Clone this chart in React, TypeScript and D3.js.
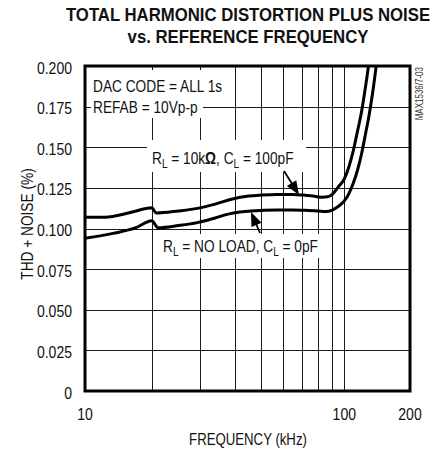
import React from 'react';
import * as d3 from 'd3';

const W = 437;
const H = 451;

const freqGrid = [10, 20, 30, 40, 50, 60, 70, 80, 90, 100, 200];
const freqLabels = [10, 100, 200];
const thdTicks = [0, 0.025, 0.05, 0.075, 0.1, 0.125, 0.15, 0.175, 0.2];
const thdLabels = ['0', '0.025', '0.050', '0.075', '0.100', '0.125', '0.150', '0.175', '0.200'];

// R_L = 10kΩ, C_L = 100pF
const loadFreq = [10, 12.3, 16, 20, 20.8, 25, 29.3, 34, 38.9, 45, 50, 57, 65, 72, 78, 83, 87, 91, 95, 100, 105, 110, 115, 120, 125, 129, 132];
const loadThd = [0.107, 0.107, 0.1098, 0.1128, 0.1095, 0.1108, 0.1124, 0.115, 0.118, 0.12, 0.1206, 0.121, 0.121, 0.1205, 0.1198, 0.1193, 0.1195, 0.1215, 0.1255, 0.1305, 0.138, 0.148, 0.16, 0.172, 0.187, 0.2, 0.212];

// R_L = NO LOAD, C_L = 0pF
const noLoadFreq = [10, 13.4, 17, 20, 21.1, 25, 29.3, 34, 38.9, 46, 57, 65, 72, 80, 86, 90, 95, 100, 105, 110, 115, 120, 125, 130, 135, 140, 143];
const noLoadThd = [0.094, 0.097, 0.1005, 0.1048, 0.1005, 0.1018, 0.1036, 0.1065, 0.1093, 0.1108, 0.1114, 0.1114, 0.1112, 0.1108, 0.1105, 0.1112, 0.1135, 0.117, 0.1215, 0.128, 0.136, 0.146, 0.158, 0.17, 0.184, 0.2, 0.21];

const FONT = '"Liberation Sans", Arial, Helvetica, sans-serif';

type NTProps = {
  x: number;
  y: number;
  size: number;
  sx?: number;
  anchor?: 'start' | 'middle' | 'end';
  bold?: boolean;
  rotate?: number;
  fill?: string;
  children?: React.ReactNode;
};

function NT({ x, y, size, sx = 0.83, anchor = 'start', bold = false, rotate = 0, fill = '#111', children }: NTProps) {
  return (
    <g transform={`translate(${x},${y}) rotate(${rotate}) scale(${sx},1)`}>
      <text x={0} y={0} textAnchor={anchor} fontSize={size} fontWeight={bold ? 'bold' : 'normal'} fill={fill}>
        {children}
      </text>
    </g>
  );
}

export default function App() {
  const L = 85, R = 410, T = 66, B = 391;
  const x = d3.scaleLog().domain([10, 20, 100, 200]).range([L, 151.7, 344.3, R]);
  const y = d3.scaleLinear().domain([0, 0.2]).range([B, T]);
  const px = (v: number) => Math.round(v) + 0.5;

  const line = d3
    .line<[number, number]>()
    .x((d) => x(d[0]))
    .y((d) => y(d[1]))
    .curve(d3.curveMonotoneX);

  const loadPts = loadFreq.map((f, i) => [f, loadThd[i]] as [number, number]);
  const noLoadPts = noLoadFreq.map((f, i) => [f, noLoadThd[i]] as [number, number]);

  const arrow = (x1: number, y1: number, x2: number, y2: number) => {
    const ang = Math.atan2(y2 - y1, x2 - x1);
    const len = 14, wid = 5.5;
    const bx = x2 - len * Math.cos(ang), by = y2 - len * Math.sin(ang);
    const ox = -Math.sin(ang) * wid, oy = Math.cos(ang) * wid;
    return (
      <g>
        <line x1={x1} y1={y1} x2={bx + 2 * Math.cos(ang)} y2={by + 2 * Math.sin(ang)} stroke="#000" strokeWidth={1.8} />
        <path d={`M${x2},${y2}L${bx + ox},${by + oy}L${bx - ox},${by - oy}Z`} fill="#000" />
      </g>
    );
  };

  return (
    <svg width={W} height={H} style={{ position: 'absolute', left: 0, top: 0, background: '#fff' }} fontFamily={FONT}>
      <rect x={0} y={0} width={W} height={H} fill="#fff" />
      <NT x={248} y={21} size={18.6} sx={0.9} anchor="middle" bold>TOTAL HARMONIC DISTORTION PLUS NOISE</NT>
      <NT x={248} y={43} size={18.6} sx={0.9} anchor="middle" bold>vs. REFERENCE FREQUENCY</NT>

      {/* grid */}
      <g stroke="#1a1a1a" strokeWidth={1}>
        {freqGrid.map((f) => (
          <line key={'v' + f} x1={px(x(f))} x2={px(x(f))} y1={T} y2={B} />
        ))}
        {thdTicks.map((t) => (
          <line key={'h' + t} x1={L} x2={R} y1={px(y(t))} y2={px(y(t))} />
        ))}
      </g>

      {/* label backgrounds */}
      <rect x={91} y={70} width={135} height={27} fill="#fff" />
      <rect x={91} y={97} width={112} height={21} fill="#fff" />
      <rect x={147} y={140} width={159} height={32} fill="#fff" />
      <rect x={158} y={234} width={166} height={24} fill="#fff" />

      {/* curves */}
      <defs>
        <clipPath id="plotclip">
          <rect x={L} y={T} width={R - L} height={B - T} />
        </clipPath>
      </defs>
      <g clipPath="url(#plotclip)" fill="none" stroke="#000" strokeWidth={3}>
        <path d={line(loadPts) || ''} />
        <path d={line(noLoadPts) || ''} />
      </g>

      {/* border */}
      <rect x={L} y={T} width={R - L} height={B - T} fill="none" stroke="#000" strokeWidth={3} />

      {/* annotations */}
      <NT x={93} y={92} size={16.5}>DAC CODE = ALL 1s</NT>
      <NT x={93} y={113} size={16.5}>REFAB = 10Vp-p</NT>
      <NT x={152} y={164} size={16.5}>
        R<tspan fontSize={12} dy={4}>L</tspan>
        <tspan dy={-4}> = 10k</tspan>
        <tspan fontWeight="bold">Ω</tspan>
        <tspan>, C</tspan>
        <tspan fontSize={12} dy={4}>L</tspan>
        <tspan dy={-4}> = 100pF</tspan>
      </NT>
      <NT x={163} y={252} size={16.5}>
        R<tspan fontSize={12} dy={4}>L</tspan>
        <tspan dy={-4}> = NO LOAD, C</tspan>
        <tspan fontSize={12} dy={4}>L</tspan>
        <tspan dy={-4}> = 0pF</tspan>
      </NT>
      {arrow(284, 171, 299, 195)}
      {arrow(260, 233, 251, 212)}

      {/* y tick labels */}
      {thdTicks.map((t, i) => (
        <NT key={'yl' + t} x={72} y={y(t) + 7.5} size={16.5} sx={0.85} anchor="end">{thdLabels[i]}</NT>
      ))}
      {/* x tick labels */}
      {freqLabels.map((f) => (
        <NT key={'xl' + f} x={x(f)} y={420} size={16.5} sx={0.85} anchor="middle">{f}</NT>
      ))}
      <NT x={248} y={445} size={16.5} sx={0.8} anchor="middle">FREQUENCY (kHz)</NT>
      <NT x={33} y={224} size={16.5} sx={0.83} anchor="middle" rotate={-90}>THD + NOISE (%)</NT>
      <NT x={423} y={67} size={10} sx={0.8} anchor="end" rotate={-90} fill="#333">MAX1536/7-03</NT>
    </svg>
  );
}
